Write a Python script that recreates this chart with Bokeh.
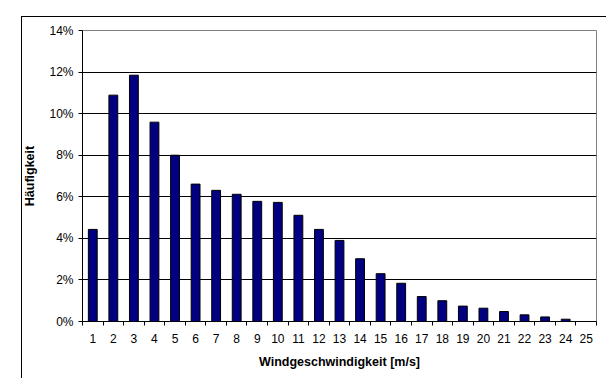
from bokeh.plotting import figure
from bokeh.models import FixedTicker, NumeralTickFormatter, Range1d, ColumnDataSource
from bokeh.embed import file_html
from bokeh.resources import INLINE

speeds = list(range(1, 26))
frequency = [0.0443, 0.1089, 0.1185, 0.0959, 0.0800, 0.0661, 0.0631, 0.0612, 0.0578,
             0.0573, 0.0511, 0.0443, 0.0390, 0.0302, 0.0230, 0.0184, 0.0120, 0.0100,
             0.0074, 0.0064, 0.0048, 0.0032, 0.0022, 0.0011, 0.0]
y_ticks = [0.0, 0.02, 0.04, 0.06, 0.08, 0.10, 0.12, 0.14]
x_label = "Windgeschwindigkeit [m/s]"
y_label = "Häufigkeit"

FONT = "Liberation Sans"

border_css = ("linear-gradient(#000,#000) 21px 16px / 1px 100% no-repeat, "
              "linear-gradient(#000,#000) 21px 16px / 592px 1px no-repeat, "
              "linear-gradient(#000,#000) 612px 16px / 1px 100% no-repeat")

p = figure(width=606, height=378, output_backend="svg", toolbar_location=None,
           x_range=Range1d(0.5, 25.5), y_range=Range1d(0, 0.14),
           min_border_left=82, min_border_right=10, min_border_top=30, min_border_bottom=57,
           styles={"background": border_css})

src = ColumnDataSource(dict(x=speeds, top=frequency))
p.vbar(x="x", top="top", bottom=0, width=0.43, source=src,
       fill_color="#000080", line_color="#000000", line_width=1)

# axes
p.xaxis.ticker = FixedTicker(ticks=speeds, minor_ticks=[s - 0.5 for s in speeds] + [25.5])
p.xaxis.major_tick_out = 0
p.xaxis.major_tick_in = 0
p.xaxis.minor_tick_out = 4
p.xaxis.minor_tick_in = 0
p.xaxis.minor_tick_line_color = "black"
p.xaxis.axis_line_color = "black"
p.xaxis.major_label_standoff = 8
p.xaxis.axis_label = x_label
p.xaxis.axis_label_standoff = 9

p.yaxis.ticker = FixedTicker(ticks=y_ticks)
p.yaxis.formatter = NumeralTickFormatter(format="0%")
p.yaxis.major_tick_out = 4
p.yaxis.major_tick_in = 0
p.yaxis.minor_tick_out = 0
p.yaxis.minor_tick_in = 0
p.yaxis.axis_line_color = "black"
p.yaxis.major_label_standoff = 5
p.yaxis.axis_label = y_label
p.yaxis.axis_label_standoff = 9

for ax in (p.xaxis, p.yaxis):
    ax.major_label_text_font = FONT
    ax.major_label_text_font_size = "12px"
    ax.major_label_text_color = "black"
    ax.axis_label_text_font = FONT
    ax.axis_label_text_font_size = "12.5px"
    ax.axis_label_text_font_style = "bold"
    ax.axis_label_text_color = "black"
    ax.major_tick_line_color = "black"

p.xgrid.visible = False
p.ygrid.ticker = FixedTicker(ticks=y_ticks)
p.ygrid.grid_line_color = "#000000"
p.ygrid.grid_line_width = 1

p.outline_line_color = "#808080"
p.outline_line_width = 1
p.background_fill_color = "white"
p.border_fill_color = None

open("out.html", "w").write(file_html(p, INLINE))
